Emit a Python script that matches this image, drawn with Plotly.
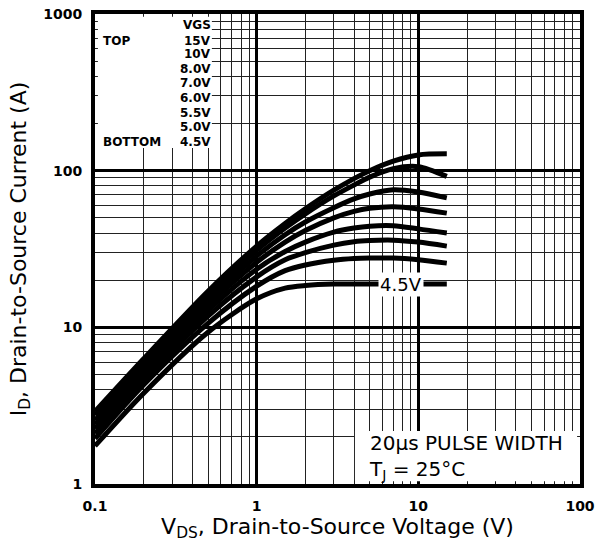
import plotly.graph_objects as go
import numpy as np

# Drain-to-source voltage sample points (V)
vds = [0.1, 0.2, 0.5, 1.0, 1.5, 2.0, 3.0, 4.0, 5.0, 7.0, 10.0, 15.0]

# Drain current (A) for each gate voltage
id_15v = [2.9, 6.3, 17.0, 33.0, 46.0, 57.0, 75.0, 89.0, 100.0, 115.0, 126.0, 128.0]
id_10v = [2.75, 6.0, 16.0, 31.0, 43.0, 53.0, 69.0, 81.0, 91.0, 103.0, 106.0, 92.0]
id_8v = [2.55, 5.6, 14.8, 28.5, 39.0, 47.0, 58.0, 66.0, 71.0, 75.5, 73.0, 67.0]
id_7v = [2.4, 5.2, 13.8, 26.0, 35.0, 41.5, 50.0, 55.0, 57.5, 58.8, 57.0, 53.6]
id_6v = [2.25, 4.9, 12.8, 23.5, 30.5, 35.0, 40.5, 43.0, 44.2, 44.5, 42.5, 40.0]
id_5v5 = [2.1, 4.6, 11.8, 21.0, 27.0, 30.0, 33.5, 35.2, 35.8, 36.0, 35.0, 33.0]
id_5v = [1.95, 4.3, 10.6, 18.3, 23.0, 25.0, 26.8, 27.5, 27.7, 27.7, 27.0, 25.7]
id_4v5 = [1.75, 3.8, 9.3, 15.2, 17.8, 18.5, 18.9, 18.9, 18.9, 18.9, 18.9, 18.9]

series = [id_15v, id_10v, id_8v, id_7v, id_6v, id_5v5, id_5v, id_4v5]

legend_title = "VGS"
legend_labels = ["15V", "10V", "8.0V", "7.0V", "6.0V", "5.5V", "5.0V", "4.5V"]

x_tickvals = [0.1, 1, 10, 100]
x_ticktext = ["0.1", "1", "10", "100"]
y_tickvals = [1, 10, 100, 1000]
y_ticktext = ["1", "10", "100", "1000"]

FONT = "DejaVu Sans, Arial, sans-serif"

fig = go.Figure()
for s in series:
    fig.add_trace(go.Scatter(x=vds, y=s, mode="lines",
                             line=dict(color="black", width=5, shape="spline", smoothing=0.8),
                             showlegend=False, hoverinfo="skip"))

axis_common = dict(
    type="log", showline=True, linewidth=4, linecolor="black", mirror=True,
    showgrid=True, gridcolor="black", gridwidth=2.5,
    minor=dict(dtick="D1", showgrid=True, gridcolor="#222", gridwidth=1.2, ticks=""),
    ticks="outside", ticklen=6, tickcolor="rgba(0,0,0,0)",
    tickfont=dict(family=FONT, size=14, color="black", weight="bold"),
    zeroline=False, automargin=False,
)

fig.update_xaxes(**axis_common, range=[-1, 2], tickvals=x_tickvals, ticktext=x_ticktext,
                 title=dict(text="V<sub>DS</sub>, Drain-to-Source Voltage (V)",
                            font=dict(family=FONT, size=22, color="black"), standoff=0))
fig.update_yaxes(**axis_common, range=[0, 3], tickvals=y_tickvals, ticktext=y_ticktext,
                 title=dict(text="I<sub>D</sub>, Drain-to-Source Current (A)",
                            font=dict(family=FONT, size=22, color="black"), standoff=12))

# white backgrounds for the text boxes (covering the grid)
fig.add_shape(type="rect", xref="x domain", yref="y domain", x0=0.006, x1=0.241, y0=0.715, y1=0.994,
              fillcolor="white", line=dict(width=0), layer="above")
fig.add_shape(type="rect", xref="x domain", yref="y domain", x0=0.536, x1=0.994, y0=0.006, y1=0.113,
              fillcolor="white", line=dict(width=0), layer="above")

# legend text
leg_y = [0.977, 0.943, 0.915, 0.883, 0.853, 0.821, 0.789, 0.760, 0.728]
lfont = dict(family=FONT, size=12, color="black", weight="bold")
for txt, yy in zip([legend_title] + legend_labels, leg_y):
    fig.add_annotation(xref="x domain", yref="y domain", x=0.241, y=yy, text=txt,
                       showarrow=False, xanchor="right", yanchor="middle", font=lfont,
                       borderpad=0)
fig.add_annotation(xref="x domain", yref="y domain", x=0.014, y=leg_y[1], text="TOP",
                   showarrow=False, xanchor="left", yanchor="middle", font=lfont, borderpad=0)
fig.add_annotation(xref="x domain", yref="y domain", x=0.014, y=leg_y[-1], text="BOTTOM",
                   showarrow=False, xanchor="left", yanchor="middle", font=lfont, borderpad=0)

# 4.5V curve label
fig.add_annotation(x=np.log10(7.8), y=np.log10(id_4v5[-1]), text="4.5V", showarrow=False,
                   bgcolor="white", borderpad=1, font=dict(family=FONT, size=18, color="black"))

# conditions text
fig.add_annotation(xref="x domain", yref="y domain", x=0.56, y=0.117,
                   text="20µs PULSE WIDTH<br>T<sub>J</sub> = 25°C", align="left",
                   showarrow=False, xanchor="left", yanchor="top",
                   font=dict(family=FONT, size=20, color="black"))

fig.update_layout(width=597, height=552, margin=dict(l=95, r=17, t=14, b=68),
                  plot_bgcolor="white", paper_bgcolor="white")

fig.write_html("out.html", config={"displayModeBar": False},
               post_script="document.body.style.margin='0';")
